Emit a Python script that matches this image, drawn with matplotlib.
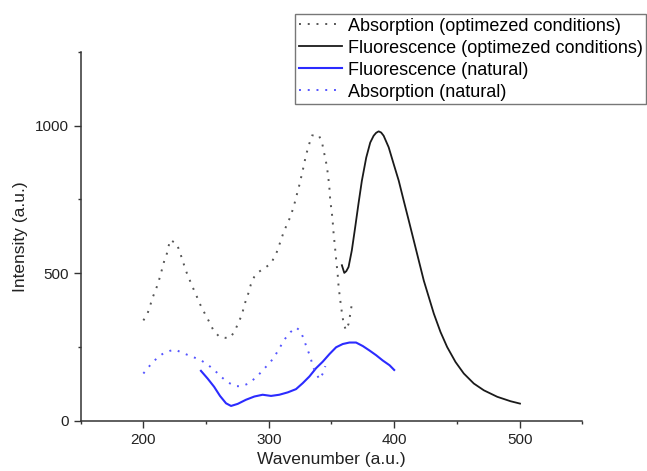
import matplotlib.pyplot as plt
from matplotlib.ticker import MultipleLocator

plt.rcParams['font.family'] = ['Liberation Sans', 'DejaVu Sans']

# absorption, optimized conditions (gray dotted)
abs_opt_x = [200, 203.2, 205.3, 207.5, 209.9, 212.0, 213.9, 215.5, 217.1, 218.7, 221.3,
             226.6, 228.8, 230.6, 232.5, 234.6, 237.3, 239.9, 242.6, 245.3, 248.4, 251.9,
             255.9, 260.7, 265.2, 269.2, 273.2, 275.8, 278.5, 279.8, 281.7, 283.8, 285.7,
             288.3, 291.8, 295.8, 299.8, 302.5, 304.3, 306.4, 308.3, 310.4, 312.3, 314.9,
             317.6, 319.7, 321.6, 323.2, 325.1, 326.4, 327.7, 329.1, 330.4, 332.3, 334.4,
             339.7, 342.4, 343.7, 345.1, 346.4, 347.7, 348.5, 349.0, 350.1, 350.9, 351.7,
             352.8, 353.8, 354.9, 355.7, 357.0, 358.4, 359.7, 361.5, 363.7, 365.0, 366.3]
abs_opt_y = [340, 362, 389, 419, 444, 470, 498, 524, 549, 566, 613,
             600, 575, 552, 527, 501, 473, 447, 421, 394, 368, 340,
             306, 284, 281, 281, 306, 334, 357, 380, 408, 433, 462,
             487, 504, 515, 527, 538, 555, 572, 595, 621, 645, 668,
             696, 724, 753, 781, 810, 838, 860, 889, 911, 939, 967,
             969, 945, 916, 889, 860, 815, 781, 746, 712, 679, 634,
             588, 543, 498, 453, 408, 363, 329, 307, 329, 363, 397]

# fluorescence, optimized conditions (black)
fl_opt_x = [358.3, 360.2, 361.8, 363.6, 366.2, 368.9, 371.5, 374.2, 377.7, 380.9, 383.6,
            385.6, 387.6, 389.6, 391.6, 395.6, 399.6, 403.6, 407.6, 411.6, 415.6, 419.6,
            423.6, 427.6, 431.6, 436.9, 442.2, 448.9, 455.5, 463.5, 471.5, 482.2, 492.8,
            500.3]
fl_opt_y = [527, 501, 507, 521, 577, 656, 735, 813, 892, 943, 966,
            976, 981, 977, 966, 927, 870, 814, 746, 679, 611, 543,
            475, 419, 363, 301, 250, 199, 160, 126, 103, 81, 66,
            58]

# fluorescence, natural (blue)
fl_nat_x = [245.9, 251.2, 256.4, 261.1, 265.9, 269.9, 275.2, 281.8, 288.5, 295.1, 301.8,
            308.4, 315.1, 321.7, 327.0, 332.4, 337.7, 343.0, 348.4, 353.7, 359.0, 364.3,
            369.6, 375.0, 380.3, 385.6, 390.9, 396.3, 400.0]
fl_nat_y = [169, 143, 115, 84, 59, 50, 57, 71, 82, 88, 84,
            88, 96, 107, 127, 150, 178, 200, 226, 249, 260, 265,
            265, 253, 238, 222, 204, 188, 172]

# absorption, natural (blue dotted)
abs_nat_x = [200, 203.2, 206.6, 212.0, 215.9, 221.3, 225.3, 230.6, 235.9, 241.3, 246.6,
             251.9, 257.2, 262.5, 267.9, 273.2, 278.5, 283.8, 290.5, 295.8, 301.2, 305.2,
             309.2, 313.2, 317.2, 321.7, 325.1, 327.7, 330.4, 333.1, 335.2, 338.4, 340.5,
             343.2, 345.1]
abs_nat_y = [160, 177, 194, 217, 228, 237, 241, 231, 222, 213, 203,
             188, 169, 147, 129, 117, 117, 126, 149, 174, 198, 222,
             251, 279, 300, 316, 305, 279, 246, 217, 183, 155, 140,
             161, 185]

fig = plt.figure(figsize=(6.47, 4.71), dpi=100)
ax = fig.add_axes([0.1247, 0.1068, 0.7753, 0.7828])

dots = (0, (1, 3.5))
ax.plot(abs_opt_x, abs_opt_y, color='#555555', lw=1.4, linestyle=dots,
        label='Absorption (optimezed conditions)')
ax.plot(fl_opt_x, fl_opt_y, color='#1a1a1a', lw=1.3,
        label='Fluorescence (optimezed conditions)')
ax.plot(fl_nat_x, fl_nat_y, color='#2b2bff', lw=1.5,
        label='Fluorescence (natural)')
ax.plot(abs_nat_x, abs_nat_y, color='#5555ff', lw=1.4, linestyle=dots,
        label='Absorption (natural)')

ax.set_xlim(150, 550)
ax.set_ylim(0, 1250)
ax.xaxis.set_minor_locator(MultipleLocator(50))
ax.yaxis.set_minor_locator(MultipleLocator(250))
ax.set_xticks([200, 300, 400, 500])
ax.set_yticks([0, 500, 1000])

for s in ['top', 'right']:
    ax.spines[s].set_visible(False)
for s in ['left', 'bottom']:
    ax.spines[s].set_color('#333333')
    ax.spines[s].set_linewidth(1.1)

ax.tick_params(which='major', length=5, width=1, color='#333333',
               labelsize=11, labelcolor='#222222')
ax.tick_params(which='minor', length=2.5, width=1, color='#333333')

ax.set_xlabel('Wavenumber (a.u.)', fontsize=12.5, color='#222222', labelpad=4)
ax.set_ylabel('Intensity (a.u.)', fontsize=12.5, color='#222222', labelpad=5)

leg = ax.legend(loc='upper right', bbox_to_anchor=(646 / 647, 1 - 14 / 471),
                bbox_transform=fig.transFigure, fontsize=13, frameon=True,
                fancybox=False, edgecolor='#555555', borderpad=0.2,
                labelspacing=0.28, handlelength=2.4, handletextpad=0.3,
                borderaxespad=0)
leg.get_frame().set_linewidth(1.0)

fig.savefig('out.png', dpi=100)
